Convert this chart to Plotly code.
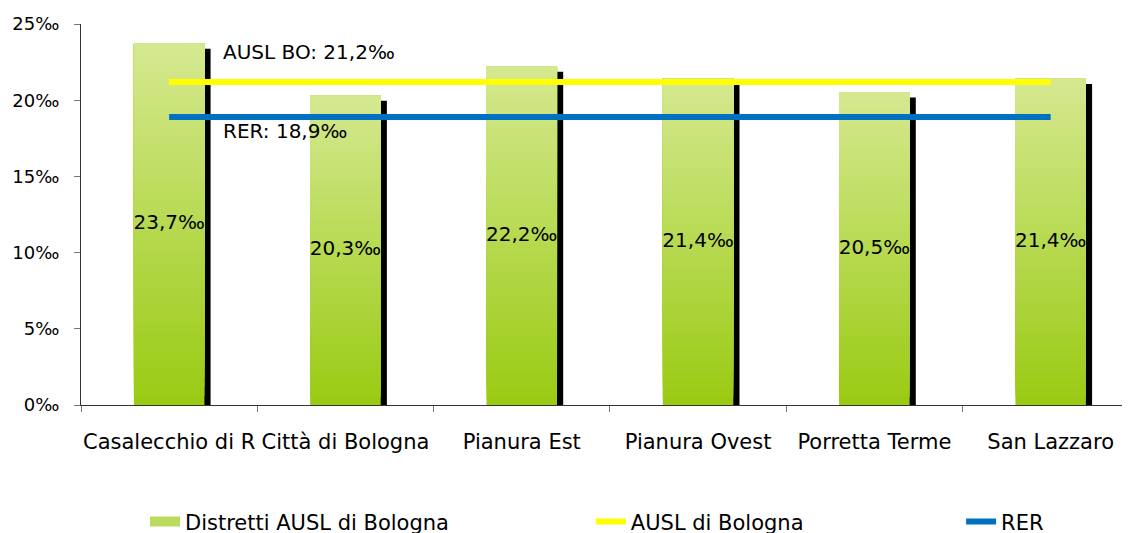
import plotly.graph_objects as go

categories = ["Casalecchio di R", "Città di Bologna", "Pianura Est", "Pianura Ovest", "Porretta Terme", "San Lazzaro"]
distretti = [23.7, 20.3, 22.2, 21.4, 20.5, 21.4]
distretti_labels = ["23,7‰", "20,3‰", "22,2‰", "21,4‰", "20,5‰", "21,4‰"]
ausl_bo = [21.2] * 6
rer = [18.9] * 6
y_ticks = [0, 5, 10, 15, 20, 25]
y_tick_labels = ["0‰", "5‰", "10‰", "15‰", "20‰", "25‰"]

FONT = "DejaVu Sans, sans-serif"
BOTTOM = (154, 203, 20)
TOP = (214, 233, 146)
N = 40
BAR_W = 0.40

fig = go.Figure()

# drop shadow
fig.add_trace(go.Bar(
    x=categories, y=[v - 0.33 for v in distretti],
    width=BAR_W, offset=-BAR_W / 2 + 0.035,
    marker=dict(color="black", line=dict(width=0)),
    showlegend=False, hoverinfo="skip",
))

# gradient bars built from stacked overlay segments
for k in range(N):
    t = k / N
    col = "rgb(%d,%d,%d)" % tuple(round(BOTTOM[i] + (TOP[i] - BOTTOM[i]) * t) for i in range(3))
    fig.add_trace(go.Bar(
        x=categories,
        base=[v * t for v in distretti],
        y=[v * (1 - t) for v in distretti],
        width=BAR_W, offset=-BAR_W / 2,
        marker=dict(color=col, line=dict(width=0)),
        showlegend=False,
        hoverinfo="skip",
    ))

# legend entry for the gradient bars
fig.add_trace(go.Scatter(
    x=[None], y=[None], mode="lines", name="Distretti AUSL di Bologna",
    line=dict(color="#b9dc5e", width=14), legend="legend",
))

fig.add_trace(go.Scatter(
    x=categories, y=[v / 2 for v in distretti], mode="text",
    text=distretti_labels, textfont=dict(family=FONT, size=20, color="black"),
    showlegend=False, hoverinfo="skip",
))

fig.add_trace(go.Scatter(
    x=categories, y=ausl_bo, mode="lines", name="AUSL di Bologna",
    line=dict(color="#FFFF00", width=6), legend="legend2",
))
fig.add_trace(go.Scatter(
    x=categories, y=rer, mode="lines", name="RER",
    line=dict(color="#0070C0", width=6), legend="legend3",
))

fig.add_annotation(x=0, y=23.16, xref="x", yref="y", text="AUSL BO: 21,2‰",
                   showarrow=False, xanchor="left", xshift=52, font=dict(family=FONT, size=20, color="black"))
fig.add_annotation(x=0, y=17.98, xref="x", yref="y", text="RER: 18,9‰",
                   showarrow=False, xanchor="left", xshift=52, font=dict(family=FONT, size=20, color="black"))

leg = dict(orientation="h", yanchor="middle", y=-0.307, xanchor="left",
           font=dict(family=FONT, size=21, color="black"), bgcolor="rgba(0,0,0,0)")
fig.update_layout(
    width=1122, height=545,
    margin=dict(l=73, r=0, t=16, b=148),
    plot_bgcolor="white", paper_bgcolor="white",
    barmode="overlay",
    font=dict(family=FONT, size=20, color="black"),
    legend=dict(leg, x=0.061),
    legend2=dict(leg, x=0.486),
    legend3=dict(leg, x=0.839),
    xaxis=dict(
        range=[-0.5, 5.45], showgrid=False, showline=True, linecolor="#333333", linewidth=1,
        ticks="outside", tickson="boundaries", ticklen=6, tickcolor="#777777",
        tickfont=dict(family=FONT, size=21, color="black"), fixedrange=True, tickangle=0,
        automargin=False, ticklabelstandoff=18,
    ),
    yaxis=dict(
        range=[0, 25], tickvals=y_ticks, ticktext=y_tick_labels, showgrid=False, zeroline=False,
        showline=True, linecolor="#333333", linewidth=1, ticks="outside", ticklen=6,
        tickcolor="#777777", tickfont=dict(family=FONT, size=18, color="black"),
        automargin=False, ticklabelstandoff=11,
    ),
)

fig.write_html("out.html")
